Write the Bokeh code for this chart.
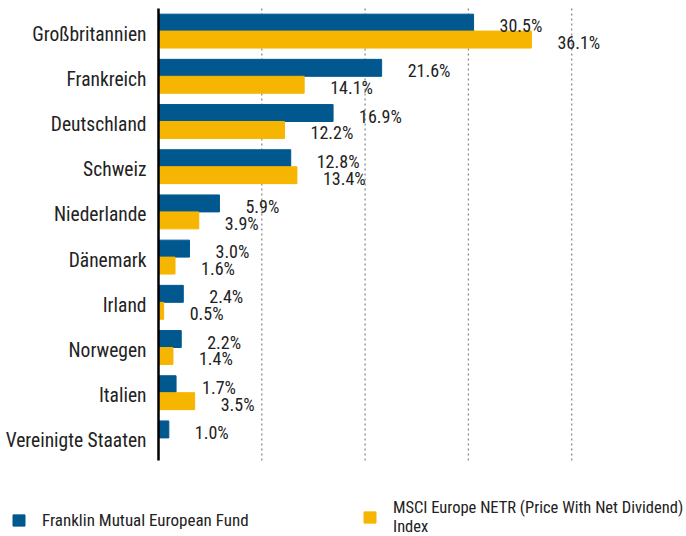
from bokeh.plotting import figure
from bokeh.models import ColumnDataSource, Legend, LegendItem, Range1d
from bokeh.core.properties import value
from bokeh.embed import file_html
from bokeh.resources import INLINE

categories = ["Großbritannien", "Frankreich", "Deutschland", "Schweiz", "Niederlande",
              "Dänemark", "Irland", "Norwegen", "Italien", "Vereinigte Staaten"]
fund_values = [30.5, 21.6, 16.9, 12.8, 5.9, 3.0, 2.4, 2.2, 1.7, 1.0]
index_values = [36.1, 14.1, 12.2, 13.4, 3.9, 1.6, 0.5, 1.4, 3.5, None]
series_names = ["Franklin Mutual European Fund",
                "MSCI Europe NETR (Price With Net Dividend)\nIndex"]
x_ticks = [10, 20, 30, 40]

BLUE = "#00588f"
YELLOW = "#f6b500"
FONT = "Roboto Condensed"
TXT = "#222222"

# layout constants (pixels)
W, H = 686, 536
AXIS_X = 158          # pixel position of the zero line
PX_PER_UNIT = 10.33   # pixels per percent
BAND = 45.2           # pixels per category row
TOP = 8
n = len(categories)
bottom_px = H - (TOP + n * BAND)

# numeric row positions derived from category order (top row first)
row = [n - 1 - i + 0.5 for i in range(n)]
bh = 0.375

fund_src = ColumnDataSource(dict(cat=categories, y=[r + bh / 2 for r in row], val=fund_values,
                                 lab=[f"{v:.1f}%" for v in fund_values]))
idx_rows = [(c, r, v) for c, r, v in zip(categories, row, index_values) if v is not None]
idx_src = ColumnDataSource(dict(cat=[a for a, _, _ in idx_rows],
                                y=[r - bh / 2 for _, r, _ in idx_rows],
                                val=[v for _, _, v in idx_rows],
                                lab=[f"{v:.1f}%" for _, _, v in idx_rows]))
cat_src = ColumnDataSource(dict(cat=categories, y=row, x=[0] * n))
grid_src = ColumnDataSource(dict(x=x_ticks, y0=[0] * len(x_ticks), y1=[n] * len(x_ticks)))

p = figure(width=W, height=H, output_backend="svg", toolbar_location=None,
           x_range=Range1d(-AXIS_X / PX_PER_UNIT, (W - AXIS_X) / PX_PER_UNIT),
           y_range=Range1d(-bottom_px / BAND, n + TOP / BAND),
           min_border=0)
p.axis.visible = False
p.grid.grid_line_color = None
p.outline_line_color = None

# dotted vertical grid lines at the tick values, spanning the category rows
p.segment(x0="x", x1="x", y0="y0", y1="y1", source=grid_src,
          line_color="#8a8a8a", line_dash="2 3", line_width=1.3)

r1 = p.hbar(y="y", left=0, right="val", height=bh, color=BLUE, source=fund_src)
r2 = p.hbar(y="y", left=0, right="val", height=bh, color=YELLOW, source=idx_src)

# zero axis line
p.segment(x0=[0], x1=[0], y0=[0], y1=[n], line_color="black", line_width=2.5)

# category labels
p.text(x="x", y="y", text="cat", source=cat_src, text_align="right", text_baseline="middle",
       x_offset=-12, y_offset=3, text_font=value(FONT), text_font_size="19.5px", text_color=TXT)

# value labels
for src in (fund_src, idx_src):
    p.text(x="val", y="y", text="lab", source=src, text_align="left", text_baseline="middle",
           x_offset=26, y_offset=3, text_font=value(FONT), text_font_size="18px",
           text_color=TXT)

common = dict(orientation="horizontal", glyph_width=15, glyph_height=14, label_standoff=16,
              padding=0, margin=0, border_line_color=None, background_fill_alpha=0,
              label_text_font=FONT, label_text_color=TXT)
legend1 = Legend(items=[LegendItem(label=series_names[0], renderers=[r1])],
                 location=(11, 6), label_text_font_size="17px", **common)
legend2 = Legend(items=[LegendItem(label=series_names[1], renderers=[r2])],
                 location=(362, 0), label_text_font_size="16.5px", **common)
p.add_layout(legend1, "center")
p.add_layout(legend2, "center")

open("out.html", "w").write(file_html(p, INLINE))
